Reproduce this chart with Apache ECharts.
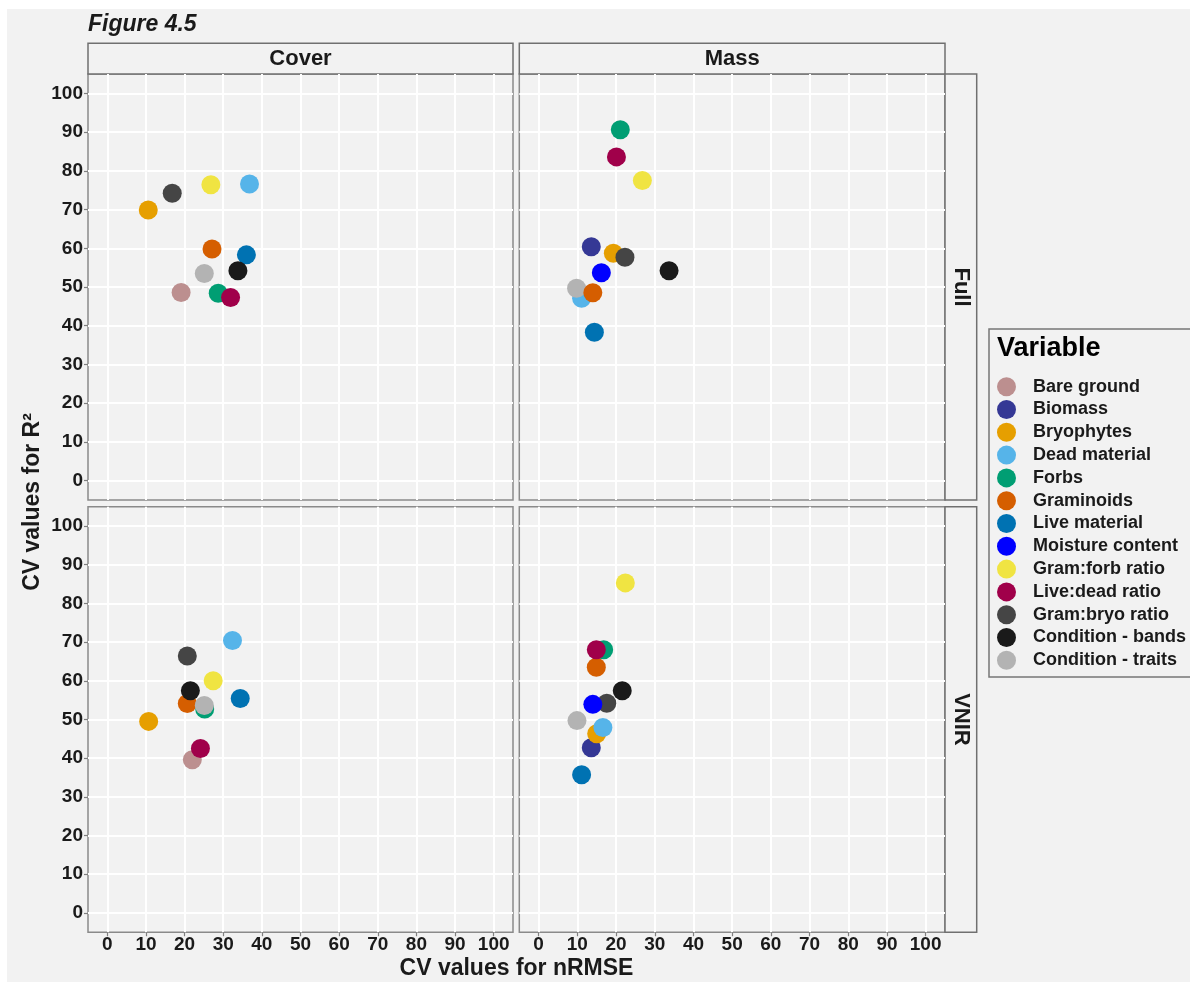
<!DOCTYPE html>
<html>
<head>
<meta charset="utf-8">
<title>Figure 4.5</title>
<script src="https://cdn.jsdelivr.net/npm/echarts@6/dist/echarts.min.js"></script>
<style>
  html, body { margin: 0; padding: 0; background: #ffffff; }
  #chart { width: 1190px; height: 982px; }
</style>
</head>
<body>
<div id="chart"></div>
<script>
// Response variables and their colours
const variables = ['Bare ground', 'Biomass', 'Bryophytes', 'Dead material', 'Forbs', 'Graminoids',
  'Live material', 'Moisture content', 'Gram:forb ratio', 'Live:dead ratio', 'Gram:bryo ratio',
  'Condition - bands', 'Condition - traits'];
const colours = ['#BC8F8F', '#353895', '#E69F00', '#56B4E9', '#009E73', '#D55E00',
  '#0072B2', '#0000FF', '#F0E442', '#A0004A', '#454545', '#1A1A1A', '#B3B3B3'];

// CV of nRMSE (x) and CV of R² (y) per variable; null = not modelled
const coverFullNrmse = [19.1, null, 10.6, 36.8, 28.7, 27.1, 36.0, null, 26.8, 31.9, 16.8, 33.8, 25.1];
const coverFullR2    = [48.6, null, 69.9, 76.6, 48.4, 59.8, 58.3, null, 76.4, 47.3, 74.2, 54.2, 53.5];
const massFullNrmse  = [null, 13.6, 19.3, 11.1, 21.1, 14.0, 14.4, 16.2, 26.8, 20.1, 22.3, 33.7, 9.8];
const massFullR2     = [null, 60.4, 58.7, 47.1, 90.6, 48.5, 38.3, 53.7, 77.5, 83.6, 57.7, 54.2, 49.7];
const coverVnirNrmse = [22.0, null, 10.7, 32.4, 25.2, 20.7, 34.4, null, 27.4, 24.1, 20.7, 21.5, 25.1];
const coverVnirR2    = [39.6, null, 49.5, 70.4, 52.7, 54.1, 55.4, null, 60.0, 42.5, 66.4, 57.4, 53.6];
const massVnirNrmse  = [null, 13.6, 15.0, 16.6, 16.8, 14.9, 11.1, 14.0, 22.4, 14.9, 17.6, 21.6, 9.9];
const massVnirR2     = [null, 42.7, 46.3, 47.9, 68.0, 63.5, 35.7, 53.9, 85.3, 68.0, 54.2, 57.4, 49.7];

// Axis breaks shared by every panel
const tickValues = [0, 10, 20, 30, 40, 50, 60, 70, 80, 90, 100];

// Facet labels
const colLabels = ['Cover', 'Mass'];
const rowLabels = ['Full', 'VNIR'];

// Plotting order of points inside each facet (indices into variables)
const coverOrder = [0, 1, 2, 3, 4, 5, 6, 7, 8, 9, 10, 11, 12];
const massOrder = [1, 2, 3, 12, 4, 5, 6, 8, 9, 10, 7, 11];

const FONT = '"Liberation Sans", Arial, Helvetica, sans-serif';
const INK = '#1a1a1a';

const panels = [
  { x: coverFullNrmse, y: coverFullR2, order: coverOrder },
  { x: massFullNrmse, y: massFullR2, order: massOrder },
  { x: coverVnirNrmse, y: coverVnirR2, order: coverOrder },
  { x: massVnirNrmse, y: massVnirR2, order: massOrder }
];

// Facet layout (pixels)
const colLeft = [88, 519.3];
const colWidth = [425, 425.7];
const rowTop = [74, 506.7];
const rowHeight = [426, 425.5];
const stripTop = 43.3;
const stripRight = 976.7;

const grids = [], xAxes = [], yAxes = [], series = [];
panels.forEach((p, k) => {
  const c = k % 2, r = Math.floor(k / 2);
  grids.push({
    left: colLeft[c], top: rowTop[r], width: colWidth[c], height: rowHeight[r],
    show: true, backgroundColor: '#F2F2F2', borderColor: '#8a8a8a', borderWidth: 1.5,
    containLabel: false
  });
  const labelStyle = { fontFamily: FONT, fontSize: 19, fontWeight: 'bold', color: INK };
  xAxes.push({
    gridIndex: k, type: 'value', min: -5, max: 105, position: 'bottom',
    axisLine: { show: false, onZero: false },
    axisTick: { show: r === 1, length: 4, customValues: tickValues, lineStyle: { color: '#7f7f7f', width: 1.2 } },
    axisLabel: Object.assign({ show: r === 1, margin: 3, customValues: tickValues }, labelStyle),
    splitLine: { show: true, lineStyle: { color: '#ffffff', width: 2 } }
  });
  yAxes.push({
    gridIndex: k, type: 'value', min: -5, max: 105, position: 'left',
    axisLine: { show: false, onZero: false },
    axisTick: { show: c === 0, length: 4, customValues: tickValues, lineStyle: { color: '#7f7f7f', width: 1.2 } },
    axisLabel: Object.assign({ show: c === 0, margin: 5, customValues: tickValues }, labelStyle),
    splitLine: { show: true, lineStyle: { color: '#ffffff', width: 2 } }
  });
  p.order.forEach(i => {
    if (p.x[i] == null) return;
    series.push({
      type: 'scatter', name: variables[i], xAxisIndex: k, yAxisIndex: k,
      symbol: 'circle', symbolSize: 19,
      itemStyle: { color: colours[i], opacity: 1 },
      emphasis: { disabled: true },
      data: [[p.x[i], p.y[i]]]
    });
  });
});

// Strips, titles and legend frame
const graphics = [
  { type: 'rect', z: -10, shape: { x: 7, y: 9, width: 1183, height: 973 }, style: { fill: '#F2F2F2' } },
  { type: 'text', left: 88, top: 13, style: { text: 'Figure 4.5', font: 'italic bold 23px ' + FONT, fill: INK } }
];
colLabels.forEach((t, c) => {
  graphics.push({ type: 'rect', shape: { x: colLeft[c], y: stripTop, width: colWidth[c], height: rowTop[0] - stripTop },
    style: { fill: '#F2F2F2', stroke: '#707070', lineWidth: 1.5 } });
  graphics.push({ type: 'text', x: colLeft[c] + colWidth[c] / 2, y: (stripTop + rowTop[0]) / 2,
    style: { text: t, font: 'bold 22px ' + FONT, fill: INK, align: 'center', verticalAlign: 'middle' } });
});
rowLabels.forEach((t, r) => {
  const sx = colLeft[1] + colWidth[1];
  graphics.push({ type: 'rect', shape: { x: sx, y: rowTop[r], width: stripRight - sx, height: rowHeight[r] },
    style: { fill: '#F2F2F2', stroke: '#707070', lineWidth: 1.5 } });
  graphics.push({ type: 'text', x: (sx + stripRight) / 2, y: rowTop[r] + rowHeight[r] / 2, rotation: -Math.PI / 2,
    style: { text: t, font: 'bold 22px ' + FONT, fill: INK, align: 'center', verticalAlign: 'middle' } });
});
graphics.push({ type: 'text', x: 516.5, y: 969,
  style: { text: 'CV values for nRMSE', font: 'bold 23px ' + FONT, fill: INK, align: 'center', verticalAlign: 'middle' } });
graphics.push({ type: 'text', x: 33, y: 502, rotation: Math.PI / 2,
  style: { text: 'CV values for R²', font: 'bold 23px ' + FONT, fill: INK, align: 'center', verticalAlign: 'middle' } });
graphics.push({ type: 'rect', shape: { x: 989, y: 329, width: 220, height: 348 },
  style: { fill: '#F2F2F2', stroke: '#777777', lineWidth: 1.5 } });
graphics.push({ type: 'text', x: 997, y: 349,
  style: { text: 'Variable', font: 'bold 27px ' + FONT, fill: '#000000', align: 'left', verticalAlign: 'middle' } });

const chart = echarts.init(document.getElementById('chart'), null, { renderer: 'canvas' });
chart.setOption({
  animation: false,
  backgroundColor: 'transparent',
  graphic: { elements: graphics },
  grid: grids,
  xAxis: xAxes,
  yAxis: yAxes,
  legend: {
    orient: 'vertical', left: 997, top: 377.2, padding: 0,
    itemWidth: 19, itemHeight: 19, itemGap: 3.8, selectedMode: false, z: 20,
    data: variables.map(n => ({ name: n, icon: 'circle' })),
    textStyle: { fontFamily: FONT, fontSize: 18, fontWeight: 'bold', color: INK, padding: [0, 0, 0, 12] }
  },
  series: series
});
</script>
</body>
</html>
